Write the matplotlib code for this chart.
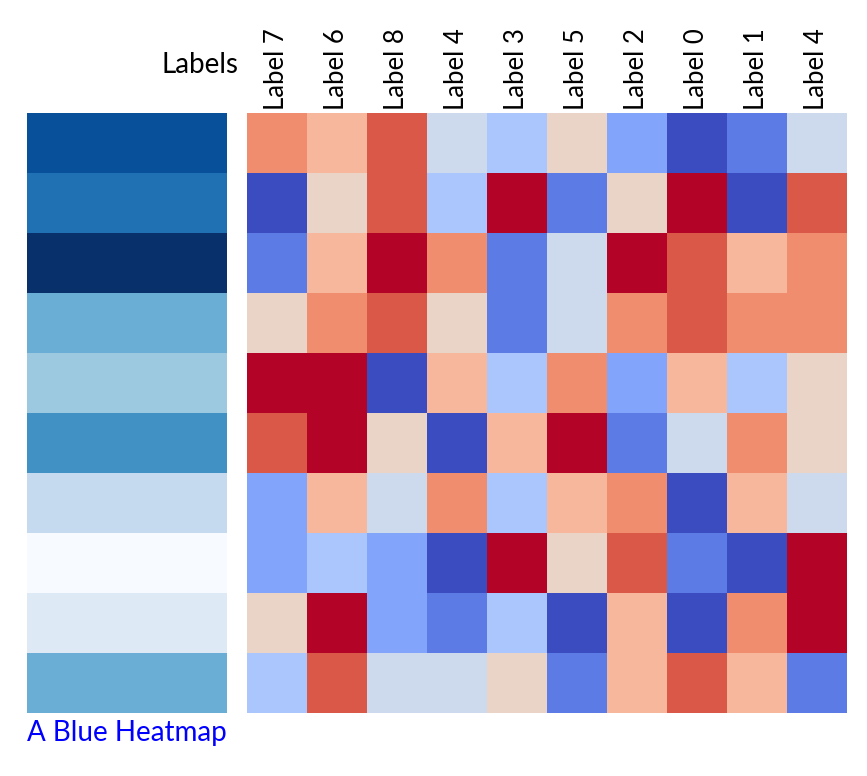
import numpy as np
import matplotlib
matplotlib.use("Agg")
import matplotlib.pyplot as plt

plt.rcParams['font.family'] = ['Lato', 'DejaVu Sans']

# label of each column / row (strip values)
labels = [7, 6, 8, 4, 3, 5, 2, 0, 1, 4]
col_names = ["Label %d" % l for l in labels]

# heatmap cells, levels 0..9
row0 = [7, 6, 8, 4, 3, 5, 2, 0, 1, 4]
row1 = [0, 5, 8, 3, 9, 1, 5, 9, 0, 8]
row2 = [1, 6, 9, 7, 1, 4, 9, 8, 6, 7]
row3 = [5, 7, 8, 5, 1, 4, 7, 8, 7, 7]
row4 = [9, 9, 0, 6, 3, 7, 2, 6, 3, 5]
row5 = [8, 9, 5, 0, 6, 9, 1, 4, 7, 5]
row6 = [2, 6, 4, 7, 3, 6, 7, 0, 6, 4]
row7 = [2, 3, 2, 0, 9, 5, 8, 1, 0, 9]
row8 = [5, 9, 2, 1, 3, 0, 6, 0, 7, 9]
row9 = [3, 8, 4, 4, 5, 1, 6, 8, 6, 1]
grid = np.array([row0, row1, row2, row3, row4, row5, row6, row7, row8, row9])

fig = plt.figure(figsize=(8.67, 7.76), dpi=100)

# blue strip on the left
ax_strip = fig.add_axes([27/867, 63/776, 200/867, 600/776])
ax_strip.imshow(np.array(labels).reshape(-1, 1), cmap='Blues', vmin=0, vmax=8,
                aspect='auto', interpolation='nearest')
ax_strip.set_xticks([])
ax_strip.set_yticks([])
for s in ax_strip.spines.values():
    s.set_visible(False)

# main heatmap
ax = fig.add_axes([247/867, 63/776, 600/867, 600/776])
ax.imshow(grid, cmap='coolwarm', vmin=0, vmax=9, aspect='auto', interpolation='nearest')
ax.set_yticks([])
ax.set_xticks(np.arange(len(col_names)))
ax.set_xticklabels(col_names, rotation=90, fontsize=18.5)
ax.tick_params(axis='x', top=True, bottom=False, labeltop=True, labelbottom=False,
               length=0, pad=2)
for s in ax.spines.values():
    s.set_visible(False)

fig.text(238/867, 1 - 65/776, "Labels", ha='right', va='center', fontsize=20)
fig.text(27/867, 1 - 733/776, "A Blue Heatmap", ha='left', va='center',
         fontsize=20, color='blue')

fig.savefig("out.png", dpi=100)
